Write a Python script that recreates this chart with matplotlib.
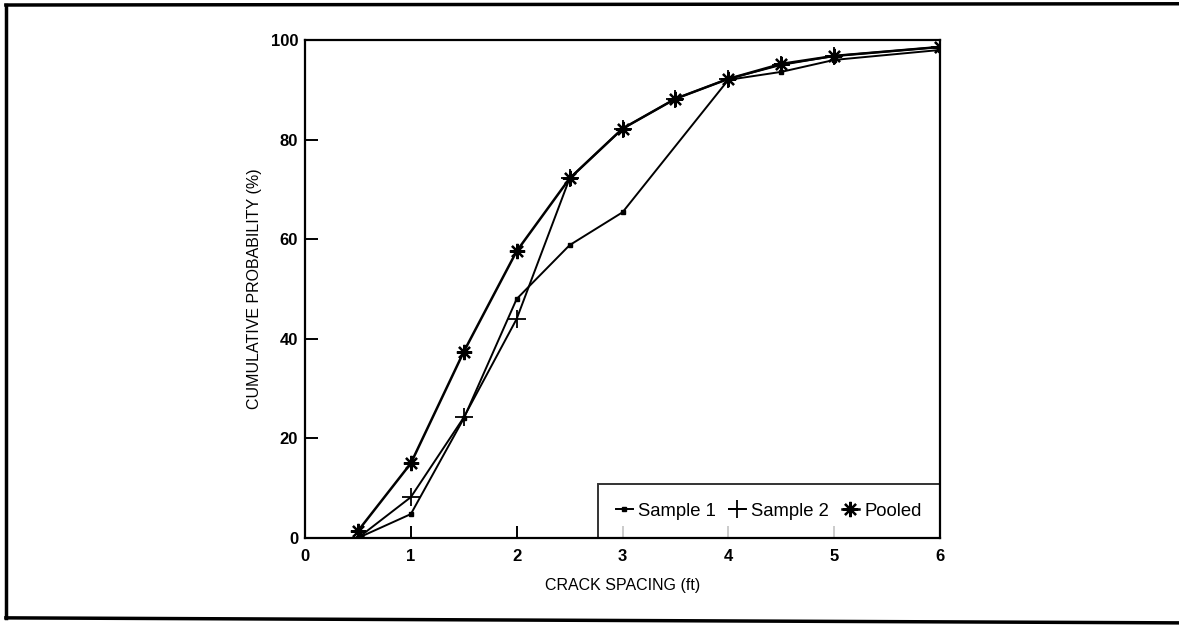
import matplotlib.pyplot as plt
from matplotlib.lines import Line2D

plt.rcParams['font.family'] = ['Liberation Sans', 'DejaVu Sans']

# crack spacing (ft) vs cumulative probability (%)
x_s1 = [0.5, 1, 1.5, 2, 2.5, 3, 4, 4.5, 5, 6]
y_s1 = [0, 4.8, 24, 48, 58.8, 65.4, 92, 93.6, 96, 98]

x_s2 = [0.5, 1, 1.5, 2, 2.5, 3, 3.5, 4, 4.5, 5, 6]
y_s2 = [0, 8.2, 24.2, 44, 72.2, 82.2, 88.2, 92.2, 95, 96.8, 98.6]

x_pool = [0.5, 1, 1.5, 2, 2.5, 3, 3.5, 4, 4.5, 5, 6]
y_pool = [1.4, 15, 37.4, 57.6, 72.2, 82.2, 88.2, 92.2, 95.2, 96.8, 98.6]

xticks = [0, 1, 2, 3, 4, 5, 6]
yticks = [0, 20, 40, 60, 80, 100]

fig = plt.figure(figsize=(11.79, 6.26), dpi=100)
ax = fig.add_axes([0.2587, 0.1406, 0.5386, 0.7955])

ax.plot(x_s1, y_s1, color='black', lw=1.4, marker='s', markersize=3, label='Sample 1')
ax.plot(x_s2, y_s2, color='black', lw=1.4, marker='+', markersize=13, markeredgewidth=1.3, label='Sample 2')
ax.plot(x_pool, y_pool, color='black', lw=1.8, marker=(8, 2, 0), markersize=11, markeredgewidth=1.6, label='Pooled')

ax.set_xlim(0, 6)
ax.set_ylim(0, 100)
ax.set_xticks(xticks)
ax.set_yticks(yticks)
ax.tick_params(direction='in', length=9, width=1.4, labelsize=12, pad=8)
ax.tick_params(axis='y', pad=5)
for lab in ax.get_xticklabels() + ax.get_yticklabels():
    lab.set_fontweight('bold')
for sp in ax.spines.values():
    sp.set_linewidth(1.6)

ax.set_xlabel('CRACK SPACING (ft)', fontsize=11.5, labelpad=10)
ax.set_ylabel('CUMULATIVE PROBABILITY (%)', fontsize=11.5, labelpad=6)

leg = ax.legend(loc='lower right', ncol=3, frameon=True, fancybox=False,
                edgecolor='black', fontsize=13.3, handlelength=0.9, handletextpad=0.3,
                columnspacing=0.7, borderaxespad=0, borderpad=1.0)
leg.get_frame().set_linewidth(1.4)
leg.set_zorder(2)  # ticks show through the legend box as in the original

# outer frame of the scanned figure
fig.add_artist(Line2D([0.005, 1.0], [0.992, 0.994], transform=fig.transFigure, color='black', lw=2.5))
fig.add_artist(Line2D([0.005, 0.005], [0.013, 0.992], transform=fig.transFigure, color='black', lw=2.5))
fig.add_artist(Line2D([0.005, 1.0], [0.013, 0.005], transform=fig.transFigure, color='black', lw=2.5))

fig.savefig('out.png', dpi=100)
